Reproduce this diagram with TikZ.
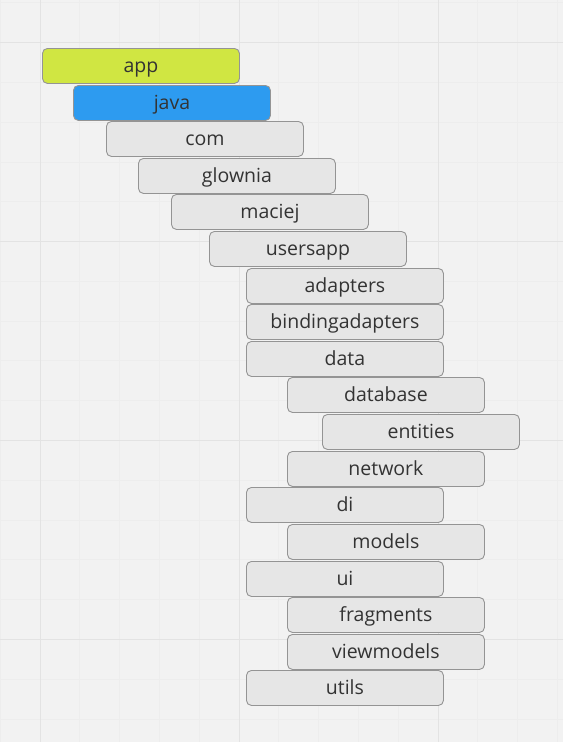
\documentclass[tikz,border=0pt]{standalone}
\usepackage{fontspec}
\setmainfont{Open Sans}
\begin{document}
\begin{tikzpicture}[x=1pt,y=-1pt,
  box/.style={draw=black!42, line width=0.9pt, rounded corners=5pt, fill=boxgray,
    minimum width=197pt, minimum height=35pt, inner sep=0pt, text=textgray,
    font=\fontsize{19.5}{22}\selectfont, anchor=north west,
    text width=197pt, align=center, text height=15.5pt, text depth=3pt}
]
\definecolor{bg}{HTML}{F2F2F2}
\definecolor{minorgrid}{HTML}{EDEDED}
\definecolor{majorgrid}{HTML}{E3E3E3}
\definecolor{boxgray}{HTML}{E6E6E6}
\definecolor{textgray}{HTML}{333333}
\definecolor{lime}{HTML}{D0E642}
\definecolor{javablue}{HTML}{2D9BF0}
\useasboundingbox (0,0) rectangle (563,742);
\fill[bg] (0,0) rectangle (563,742);
% minor grid
\foreach \i in {-1,...,14} {
  \draw[minorgrid, line width=0.7pt] ({40+39.8*\i},0) -- ({40+39.8*\i},742);
}
\foreach \i in {-1,...,18} {
  \draw[minorgrid, line width=0.7pt] (0,{42.6+39.78*\i}) -- (563,{42.6+39.78*\i});
}
% major grid
\foreach \i in {0,1,2} {
  \draw[majorgrid, line width=1pt] ({40+199*\i},0) -- ({40+199*\i},742);
}
\foreach \i in {0,1,2,3} {
  \draw[majorgrid, line width=1pt] (0,{42.6+198.9*\i}) -- (563,{42.6+198.9*\i});
}
% boxes
\node[box, fill=lime] (app) at (42,48) {app};
\node[box, fill=javablue] (java) at (73,85) {java};
\node[box] (com) at (106,121) {com};
\node[box] (glownia) at (138,158) {glownia};
\node[box] (maciej) at (171,194) {maciej};
\node[box] (usersapp) at (209,231) {usersapp};
\node[box] (adapters) at (246,268) {adapters};
\node[box] (bindingadapters) at (246,304) {bindingadapters};
\node[box] (data) at (246,341) {data};
\node[box] (database) at (287,377) {database};
\node[box] (entities) at (322,414) {entities};
\node[box] (network) at (287,451) {network};
\node[box] (di) at (246,487) {di};
\node[box] (models) at (287,524) {models};
\node[box] (ui) at (246,561) {ui};
\node[box] (fragments) at (287,597) {fragments};
\node[box] (viewmodels) at (287,634) {viewmodels};
\node[box] (utils) at (246,670) {utils};
\end{tikzpicture}
\end{document}
